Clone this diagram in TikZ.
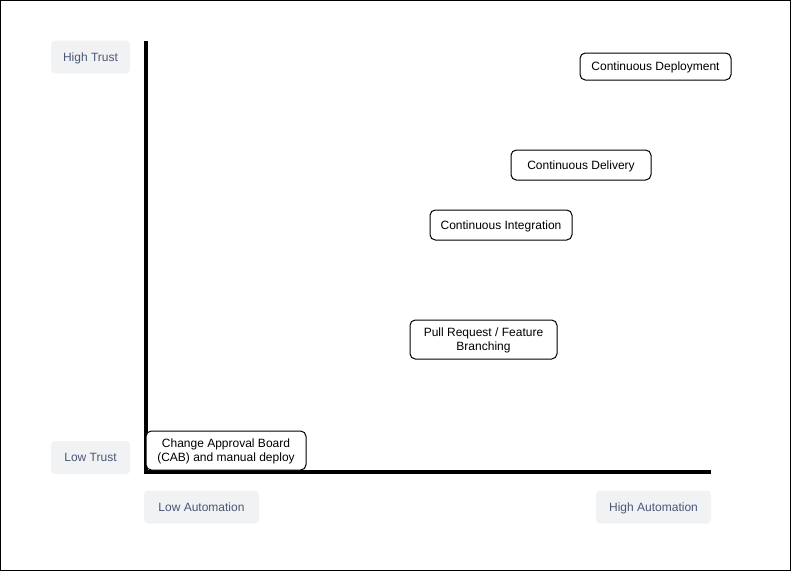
\documentclass[tikz,border=0pt]{standalone}
\usepackage{fontspec}
\setmainfont{Liberation Sans}
\usepackage{xcolor}
\usetikzlibrary{calc,positioning}
\definecolor{labelfill}{HTML}{F1F2F4}
\definecolor{labeltext}{HTML}{4A5877}
\tikzset{
  axislabel/.style={fill=labelfill, rounded corners=3pt, text=labeltext,
    font=\fontsize{9}{11}\selectfont, minimum height=24.75pt, inner sep=0pt, text depth=0pt},
  practice/.style={draw=black, fill=white, rounded corners=4pt, text depth=0pt,
    font=\fontsize{9}{10.5}\selectfont, align=center, inner sep=0pt, line width=0.75pt}
}

\begin{document}
\begin{tikzpicture}[x=0.75pt,y=-0.75pt]
% Draw frame.
\draw[line width=0.75pt] (0.5,0.5) rectangle (790.5,570.5);
\useasboundingbox (0,0) rectangle (791,571);

% Draw axes.
\coordinate (top) at (146,41);
\coordinate (origin) at (146,472);
\coordinate (right) at (711,472);
\draw[line width=3pt] (top) -- (origin) -- (right);

% Axis labels.
\node[axislabel, minimum width=59.25pt] (hightrust) at (90.5,57) {High Trust};
\node[axislabel, minimum width=59.25pt] (lowtrust) at (90.5,457.5) {Low Trust};
\node[axislabel, minimum width=86.25pt] (lowauto) at (201.5,507) {Low Automation};
\node[axislabel, minimum width=86.25pt] (highauto) at (653.5,507) {High Automation};

% Practices.
\node[practice, minimum width=113.25pt, minimum height=20.25pt] (cd) at (655.5,66.5) {Continuous Deployment};
\node[practice, minimum width=105pt, minimum height=22.5pt] (cdel) at (581,165) {Continuous Delivery};
\node[practice, minimum width=106.5pt, minimum height=22.5pt] (ci) at (501,225) {Continuous Integration};
\node[practice, minimum width=110.25pt, minimum height=29.25pt] (pr) at (483.5,339.5) {Pull Request / Feature\\Branching};
\node[practice, minimum width=120pt, minimum height=29.25pt] (cab) at (226,450.5) {Change Approval Board\\(CAB) and manual deploy};
\end{tikzpicture}
\end{document}
